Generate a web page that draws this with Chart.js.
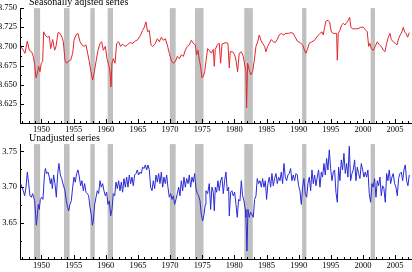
<!DOCTYPE html>
<html>
<head>
<meta charset="utf-8">
<script src="https://cdn.jsdelivr.net/npm/chart.js@4.4.1/dist/chart.umd.min.js"></script>
<style>
html, body { margin: 0; padding: 0; background: #fff; }
#wrap { position: relative; width: 412px; height: 272px; overflow: hidden; }
.panel { position: absolute; left: 0; width: 412px; height: 136px; }
.title { position: absolute; left: 29px; font-family: "Liberation Serif", serif; font-size: 10px; line-height: 10px; color: #000; white-space: nowrap; }
</style>
</head>
<body>
<div id="wrap">
  <div class="panel" style="top:0"><canvas id="top" width="412" height="136"></canvas></div>
  <div class="panel" style="top:136px"><canvas id="bottom" width="412" height="136"></canvas></div>
  <div class="title" style="top:-3px">Seasonally adjsted series</div>
  <div class="title" style="top:133px">Unadjusted series</div>
</div>
<script>
// x tick labels
var xTickYears = [1950, 1955, 1960, 1965, 1970, 1975, 1980, 1985, 1990, 1995, 2000, 2005];
var saTicks = [3.625, 3.650, 3.675, 3.700, 3.725, 3.750];
var nsaTicks = [3.65, 3.70, 3.75];

// recessions (shaded)
var recessionStart = [1948.83, 1953.50, 1957.60, 1960.29, 1969.96, 1973.87, 1981.54, 1990.54, 2001.20];
var recessionEnd   = [1949.79, 1954.37, 1958.29, 1961.12, 1970.87, 1975.20, 1982.87, 1991.20, 2001.87];

// seasonally adjusted
var saYears = [
  1946.76, 1947.18, 1947.43, 1947.80, 1948.11, 1948.47, 1948.73, 1948.94, 1949.15, 1949.35,
  1949.56, 1949.77, 1949.97, 1950.18, 1950.34, 1950.55, 1950.91, 1951.22, 1951.43, 1951.74,
  1952.05, 1952.26, 1952.57, 1952.88, 1953.19, 1953.40, 1953.66, 1953.91, 1954.23, 1954.54,
  1954.85, 1955.06, 1955.37, 1955.68, 1956.00, 1956.30, 1956.61, 1956.92, 1957.18, 1957.44,
  1957.70, 1957.96, 1958.22, 1958.48, 1958.79, 1959.10, 1959.36, 1959.62, 1959.93, 1960.19,
  1960.45, 1960.65, 1960.81, 1960.96, 1961.17, 1961.43, 1961.69, 1962.00, 1962.31, 1962.62,
  1962.99, 1963.35, 1963.76, 1964.18, 1964.59, 1965.01, 1965.42, 1965.73, 1965.99, 1966.25,
  1966.51, 1966.77, 1967.03, 1967.29, 1967.65, 1968.02, 1968.33, 1968.64, 1968.95, 1969.26,
  1969.57, 1969.88, 1970.19, 1970.50, 1970.81, 1971.13, 1971.44, 1971.75, 1972.06, 1972.37,
  1972.68, 1973.00, 1973.30, 1973.61, 1973.93, 1974.13, 1974.34, 1974.55, 1974.75, 1974.96,
  1975.17, 1975.38, 1975.58, 1975.84, 1976.10, 1976.41, 1976.72, 1976.88, 1977.03, 1977.34,
  1977.65, 1977.86, 1978.07, 1978.38, 1978.69, 1979.00, 1979.21, 1979.36, 1979.73, 1980.04,
  1980.25, 1980.50, 1980.76, 1981.08, 1981.39, 1981.65, 1981.80, 1981.90, 1982.06, 1982.32,
  1982.58, 1982.84, 1983.10, 1983.36, 1983.62, 1983.87, 1984.13, 1984.39, 1984.70, 1984.91,
  1985.17, 1985.43, 1985.74, 1986.05, 1986.36, 1986.67, 1986.98, 1987.29, 1987.61, 1988.02,
  1988.44, 1988.80, 1989.16, 1989.47, 1989.78, 1990.20, 1990.61, 1990.92, 1991.13, 1991.39,
  1991.65, 1992.06, 1992.48, 1992.89, 1993.31, 1993.62, 1993.83, 1994.03, 1994.24, 1994.55,
  1994.81, 1995.07, 1995.38, 1995.70, 1995.90, 1996.01, 1996.16, 1996.42, 1996.68, 1996.94,
  1997.20, 1997.46, 1997.72, 1997.92, 1998.13, 1998.39, 1998.80, 1999.22, 1999.63, 2000.05,
  2000.36, 2000.67, 2000.88, 2001.09, 2001.29, 2001.60, 2001.91, 2002.23, 2002.54, 2002.85,
  2003.16, 2003.42, 2003.68, 2003.94, 2004.20, 2004.40, 2004.71, 2005.03, 2005.29, 2005.54,
  2005.80, 2006.06, 2006.27, 2006.48, 2006.69, 2006.95, 2007.20
];
var saValues = [
  3.700, 3.695, 3.691, 3.707, 3.695, 3.693, 3.687, 3.676, 3.659, 3.665,
  3.674, 3.667, 3.678, 3.680, 3.719, 3.715, 3.712, 3.713, 3.697, 3.709,
  3.695, 3.700, 3.718, 3.717, 3.712, 3.706, 3.682, 3.678, 3.681, 3.682,
  3.691, 3.708, 3.715, 3.717, 3.706, 3.702, 3.700, 3.702, 3.691, 3.680,
  3.667, 3.656, 3.667, 3.680, 3.695, 3.704, 3.706, 3.695, 3.700, 3.684,
  3.676, 3.667, 3.647, 3.678, 3.684, 3.678, 3.704, 3.706, 3.700, 3.703,
  3.700, 3.702, 3.705, 3.704, 3.707, 3.709, 3.715, 3.721, 3.725, 3.732,
  3.719, 3.721, 3.702, 3.700, 3.703, 3.710, 3.706, 3.712, 3.708, 3.710,
  3.702, 3.691, 3.682, 3.678, 3.680, 3.687, 3.684, 3.689, 3.687, 3.695,
  3.700, 3.702, 3.708, 3.704, 3.702, 3.689, 3.695, 3.682, 3.674, 3.659,
  3.661, 3.667, 3.680, 3.697, 3.695, 3.691, 3.696, 3.674, 3.696, 3.702,
  3.704, 3.678, 3.703, 3.704, 3.705, 3.704, 3.672, 3.693, 3.693, 3.689,
  3.682, 3.667, 3.691, 3.693, 3.687, 3.674, 3.667, 3.620, 3.678, 3.669,
  3.663, 3.667, 3.682, 3.700, 3.706, 3.715, 3.708, 3.704, 3.700, 3.693,
  3.700, 3.704, 3.709, 3.706, 3.705, 3.709, 3.715, 3.717, 3.715, 3.717,
  3.717, 3.718, 3.717, 3.712, 3.707, 3.705, 3.702, 3.695, 3.691, 3.697,
  3.704, 3.706, 3.708, 3.713, 3.717, 3.719, 3.715, 3.725, 3.733, 3.734,
  3.732, 3.719, 3.717, 3.717, 3.717, 3.682, 3.717, 3.721, 3.728, 3.730,
  3.728, 3.731, 3.734, 3.738, 3.725, 3.723, 3.723, 3.723, 3.725, 3.725,
  3.722, 3.719, 3.700, 3.704, 3.697, 3.695, 3.700, 3.706, 3.702, 3.700,
  3.695, 3.693, 3.704, 3.712, 3.717, 3.709, 3.706, 3.704, 3.702, 3.710,
  3.715, 3.719, 3.725, 3.719, 3.717, 3.712, 3.718
];

// unadjusted
var nsaYears = [
  1946.76, 1946.97, 1947.18, 1947.38, 1947.59, 1947.80, 1948.01, 1948.21, 1948.42, 1948.63,
  1948.78, 1948.94, 1949.09, 1949.20, 1949.35, 1949.51, 1949.66, 1949.82, 1950.03, 1950.23,
  1950.44, 1950.60, 1950.80, 1951.01, 1951.22, 1951.38, 1951.53, 1951.69, 1951.89, 1952.10,
  1952.31, 1952.52, 1952.72, 1952.93, 1953.14, 1953.34, 1953.66, 1953.86, 1954.07, 1954.23,
  1954.43, 1954.64, 1954.85, 1955.06, 1955.26, 1955.47, 1955.68, 1955.89, 1956.09, 1956.30,
  1956.51, 1956.71, 1956.92, 1957.13, 1957.34, 1957.54, 1957.75, 1957.91, 1958.06, 1958.27,
  1958.48, 1958.68, 1958.89, 1959.10, 1959.31, 1959.51, 1959.72, 1959.93, 1960.14, 1960.34,
  1960.55, 1960.76, 1960.97, 1961.17, 1961.38, 1961.59, 1961.79, 1962.00, 1962.21, 1962.42,
  1962.62, 1962.83, 1963.04, 1963.25, 1963.45, 1963.66, 1963.87, 1964.08, 1964.28, 1964.49,
  1964.70, 1964.90, 1965.11, 1965.32, 1965.53, 1965.73, 1965.94, 1966.15, 1966.36, 1966.56,
  1966.77, 1966.98, 1967.19, 1967.39, 1967.60, 1967.81, 1968.02, 1968.22, 1968.43, 1968.64,
  1968.85, 1969.05, 1969.26, 1969.47, 1969.67, 1969.88, 1970.09, 1970.30, 1970.50, 1970.71,
  1970.92, 1971.13, 1971.33, 1971.54, 1971.75, 1971.96, 1972.16, 1972.37, 1972.58, 1972.79,
  1972.99, 1973.20, 1973.41, 1973.61, 1973.82, 1974.03, 1974.24, 1974.44, 1974.65, 1974.86,
  1975.07, 1975.27, 1975.48, 1975.58, 1975.84, 1976.10, 1976.31, 1976.51, 1976.72, 1976.88,
  1977.03, 1977.24, 1977.45, 1977.65, 1977.86, 1978.07, 1978.28, 1978.48, 1978.69, 1978.90,
  1979.11, 1979.21, 1979.42, 1979.62, 1979.83, 1980.04, 1980.25, 1980.45, 1980.66, 1980.87,
  1981.08, 1981.28, 1981.49, 1981.70, 1981.80, 1981.96, 1982.11, 1982.32, 1982.53, 1982.73,
  1982.94, 1983.15, 1983.36, 1983.56, 1983.77, 1983.98, 1984.19, 1984.39, 1984.60, 1984.81,
  1985.01, 1985.22, 1985.43, 1985.64, 1985.84, 1986.05, 1986.26, 1986.47, 1986.67, 1986.88,
  1987.09, 1987.30, 1987.50, 1987.71, 1987.92, 1988.13, 1988.33, 1988.54, 1988.75, 1988.95,
  1989.16, 1989.37, 1989.58, 1989.78, 1989.99, 1990.20, 1990.41, 1990.61, 1990.82, 1991.03,
  1991.24, 1991.44, 1991.65, 1991.86, 1992.07, 1992.27, 1992.48, 1992.69, 1992.89, 1993.10,
  1993.31, 1993.52, 1993.72, 1993.93, 1994.14, 1994.35, 1994.55, 1994.76, 1994.97, 1995.18,
  1995.38, 1995.59, 1995.80, 1996.01, 1996.21, 1996.42, 1996.63, 1996.83, 1997.04, 1997.25,
  1997.46, 1997.66, 1997.87, 1998.08, 1998.29, 1998.49, 1998.70, 1998.91, 1999.12, 1999.32,
  1999.53, 1999.74, 1999.95, 2000.15, 2000.36, 2000.57, 2000.77, 2000.98, 2001.19, 2001.40,
  2001.60, 2001.81, 2002.02, 2002.23, 2002.43, 2002.64, 2002.85, 2003.06, 2003.26, 2003.47,
  2003.68, 2003.88, 2004.09, 2004.30, 2004.51, 2004.71, 2004.92, 2005.13, 2005.34, 2005.54,
  2005.75, 2005.96, 2006.17, 2006.37, 2006.58, 2006.79, 2006.99, 2007.20
];
var nsaValues = [
  3.705, 3.700, 3.695, 3.688, 3.700, 3.721, 3.705, 3.688, 3.686, 3.691,
  3.686, 3.681, 3.662, 3.647, 3.660, 3.676, 3.669, 3.683, 3.686, 3.683,
  3.714, 3.726, 3.719, 3.721, 3.714, 3.705, 3.712, 3.698, 3.717, 3.705,
  3.686, 3.719, 3.733, 3.717, 3.712, 3.705, 3.695, 3.681, 3.672, 3.667,
  3.676, 3.681, 3.700, 3.714, 3.707, 3.719, 3.724, 3.714, 3.702, 3.709,
  3.695, 3.705, 3.693, 3.691, 3.688, 3.672, 3.662, 3.647, 3.653, 3.676,
  3.686, 3.695, 3.691, 3.709, 3.700, 3.705, 3.695, 3.688, 3.693, 3.676,
  3.681, 3.660, 3.669, 3.691, 3.688, 3.707, 3.698, 3.709, 3.695, 3.707,
  3.693, 3.712, 3.700, 3.714, 3.700, 3.717, 3.705, 3.714, 3.702, 3.717,
  3.719, 3.724, 3.717, 3.721, 3.719, 3.728, 3.726, 3.731, 3.724, 3.731,
  3.724, 3.700, 3.695, 3.709, 3.698, 3.717, 3.707, 3.719, 3.705, 3.721,
  3.700, 3.714, 3.705, 3.717, 3.700, 3.686, 3.691, 3.683, 3.688, 3.676,
  3.683, 3.691, 3.700, 3.688, 3.709, 3.695, 3.714, 3.700, 3.712, 3.705,
  3.717, 3.700, 3.714, 3.707, 3.719, 3.698, 3.691, 3.688, 3.681, 3.662,
  3.653, 3.662, 3.676, 3.695, 3.691, 3.705, 3.669, 3.700, 3.693, 3.667,
  3.700, 3.693, 3.709, 3.695, 3.709, 3.714, 3.691, 3.709, 3.721, 3.695,
  3.700, 3.660, 3.693, 3.695, 3.688, 3.693, 3.676, 3.658, 3.683, 3.681,
  3.709, 3.688, 3.681, 3.669, 3.658, 3.611, 3.669, 3.658, 3.665, 3.662,
  3.658, 3.683, 3.688, 3.712, 3.705, 3.709, 3.700, 3.712, 3.700, 3.709,
  3.683, 3.705, 3.714, 3.700, 3.719, 3.702, 3.712, 3.719, 3.705, 3.714,
  3.709, 3.721, 3.705, 3.733, 3.714, 3.709, 3.717, 3.719, 3.726, 3.709,
  3.717, 3.709, 3.719, 3.717, 3.702, 3.695, 3.676, 3.700, 3.712, 3.691,
  3.686, 3.705, 3.714, 3.695, 3.724, 3.705, 3.717, 3.702, 3.714, 3.724,
  3.700, 3.721, 3.714, 3.733, 3.717, 3.740, 3.724, 3.752, 3.726, 3.709,
  3.721, 3.724, 3.693, 3.679, 3.728, 3.709, 3.738, 3.724, 3.747, 3.719,
  3.733, 3.714, 3.757, 3.709, 3.719, 3.724, 3.738, 3.709, 3.728, 3.719,
  3.712, 3.733, 3.724, 3.714, 3.721, 3.714, 3.724, 3.691, 3.679, 3.705,
  3.700, 3.712, 3.686, 3.709, 3.702, 3.714, 3.688, 3.702, 3.698, 3.679,
  3.719, 3.709, 3.724, 3.705, 3.714, 3.719, 3.705, 3.700, 3.688, 3.712,
  3.719, 3.721, 3.709, 3.724, 3.731, 3.709, 3.702, 3.717
];

var FONT = "'Liberation Serif', 'Times New Roman', serif";

// grey bars behind the lines
var recessionBars = {
  id: 'recessionBars',
  beforeDatasetsDraw: function (chart) {
    var ctx = chart.ctx, xs = chart.scales.x, a = chart.chartArea;
    ctx.save();
    ctx.fillStyle = '#c0c0c0';
    for (var i = 0; i < recessionStart.length; i++) {
      var x1 = xs.getPixelForValue(recessionStart[i]);
      var x2 = xs.getPixelForValue(recessionEnd[i]);
      ctx.fillRect(x1, a.top, x2 - x1, a.bottom - a.top);
    }
    ctx.restore();
  }
};

// inward tick marks, minor every year
var tickMarks = {
  id: 'tickMarks',
  afterDraw: function (chart) {
    var ctx = chart.ctx, xs = chart.scales.x, ys = chart.scales.y, a = chart.chartArea;
    ctx.save();
    ctx.strokeStyle = '#000';
    ctx.lineWidth = 1;
    ctx.beginPath();
    for (var yr = 1947; yr <= 2007; yr++) {
      var px = Math.round(xs.getPixelForValue(yr)) + 0.5;
      var len = (yr % 5 === 0) ? 4 : 2;
      ctx.moveTo(px, a.bottom);
      ctx.lineTo(px, a.bottom - len);
    }
    var tk = ys.ticks;
    var step = tk.length > 1 ? tk[1].value - tk[0].value : 0;
    tk.forEach(function (t) {
      var py = Math.round(ys.getPixelForValue(t.value)) + 0.5;
      ctx.moveTo(a.left, py);
      ctx.lineTo(a.left + 4, py);
      var pm = Math.round(ys.getPixelForValue(t.value - step / 2)) + 0.5;
      if (pm < a.bottom) {
        ctx.moveTo(a.left, pm);
        ctx.lineTo(a.left + 2, pm);
      }
    });
    ctx.stroke();
    ctx.restore();
  }
};

function makeChart(id, years, values, color, yMin, yMax, yTicks, digits, padTop) {
  var pts = years.map(function (x, i) { return { x: x, y: values[i] }; });
  return new Chart(document.getElementById(id), {
    type: 'line',
    data: {
      datasets: [{
        data: pts,
        borderColor: color,
        borderWidth: 1,
        pointRadius: 0,
        tension: 0,
        fill: false
      }]
    },
    options: {
      responsive: false,
      animation: false,
      devicePixelRatio: 1,
      layout: { padding: { top: padTop, right: 1, left: 0, bottom: 0 } },
      scales: {
        x: {
          type: 'linear',
          min: 1946.66,
          max: 2007.47,
          afterBuildTicks: function (s) { s.ticks = xTickYears.map(function (v) { return { value: v }; }); },
          afterFit: function (s) { s.height = 13; },
          grid: { display: false, drawTicks: false },
          border: { display: true, color: '#000', width: 1 },
          ticks: {
            font: { family: FONT, size: 8.5 },
            color: '#000',
            padding: 2,
            maxRotation: 0,
            autoSkip: false,
            callback: function (v) { return String(v); }
          }
        },
        y: {
          min: yMin,
          max: yMax,
          afterBuildTicks: function (s) { s.ticks = yTicks.map(function (v) { return { value: v }; }); },
          afterFit: function (s) { s.width = 20; },
          grid: { display: false, drawTicks: false },
          border: { display: true, color: '#000', width: 1 },
          ticks: {
            font: { family: FONT, size: 8.5 },
            color: '#000',
            padding: 3,
            callback: function (v) { return Number(v).toFixed(digits); }
          }
        }
      },
      plugins: {
        legend: { display: false },
        tooltip: { enabled: false },
        title: { display: false }
      }
    },
    plugins: [recessionBars, tickMarks]
  });
}

makeChart('top', saYears, saValues, '#e3262e', 3.600, 3.750, saTicks, 3, 8);
makeChart('bottom', nsaYears, nsaValues, '#2a2ad6', 3.600, 3.760, nsaTicks, 2, 7);
</script>
</body>
</html>
